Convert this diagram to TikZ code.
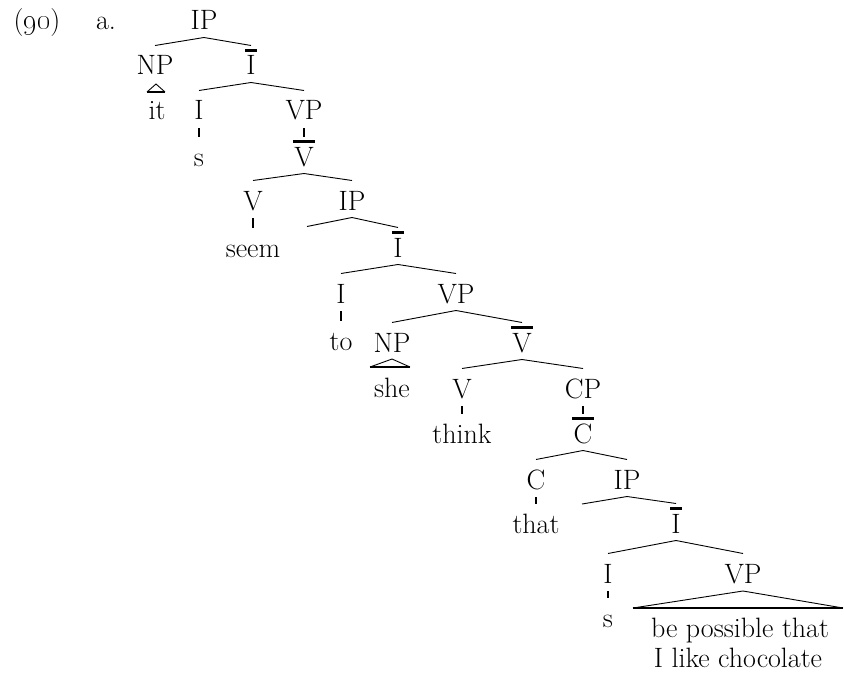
\documentclass[tikz,border=0pt]{standalone}
\usetikzlibrary{calc}
\begin{document}
\begin{tikzpicture}[x=1pt,y=-1pt,
  font=\fontsize{28}{31}\selectfont,
  every node/.style={inner sep=0pt,anchor=base},
  branch/.style={line width=0.9pt},
  vert/.style={line width=1.8pt},
  barline/.style={line width=2.6pt},
  tribase/.style={line width=2pt},
  triside/.style={line width=0.9pt}]
\useasboundingbox (0,0) rectangle (844,677);
\newcommand\brch[2]{\draw[branch] ($(#1.base)+(0,7.5)$) -- ($(#2.base)+(0,-29.5)$);}
\newcommand\vln[2]{\draw[vert] ($(#1.base)+(0,8)$) -- ($(#2.base)+(0,-29.5)$);}
\newcommand\barr[1]{\draw[barline] ($(#1.base west)+(-1,-24.5)$) -- ($(#1.base east)+(1,-24.5)$);}
% labels
\node (ex) at (37,30) {(\oldstylenums{90})};
\node (a) at (106,30) {a.};
\node (ip1) at (204,30) {IP};
\node (np1) at (155,75) {NP};
\node (ib1) at (251,75) {I};
\node (it) at (157,119) {it};
\node (i1) at (199,120) {I};
\node (vp1) at (304,120) {VP};
\node (s1) at (199,166) {s};
\node (vb1) at (304,166) {V};
\node (v1) at (253,210) {V};
\node (ip2) at (352,210) {IP};
\node (seem) at (253,257) {seem};
\node (ib2) at (398,257) {I};
\node (i2) at (341,303) {I};
\node (vp2) at (456,303) {VP};
\node (to) at (341,350) {to};
\node (np2) at (392,352) {NP};
\node (vb2) at (522,352) {V};
\node (she) at (392,397) {she};
\node (v2) at (462,398) {V};
\node (cp) at (583,398) {CP};
\node (think) at (462,443) {think};
\node (cb) at (583,443) {C};
\node (c) at (536,489) {C};
\node (ip3) at (627,489) {IP};
\node (that) at (536,533) {that};
\node (ib3) at (676,533) {I};
\node (i3) at (608,583) {I};
\node (vp3) at (743,583) {VP};
\node (s3) at (608,627) {s};
\node (vpa) at (740,637) {be possible that};
\node (vpb) at (738,667) {I like chocolate};
% bars
\barr{ib1}\barr{vb1}\barr{ib2}\barr{vb2}\barr{cb}\barr{ib3}
% branches
\brch{ip1}{np1}\brch{ip1}{ib1}
\brch{ib1}{i1}\brch{ib1}{vp1}
\brch{vb1}{v1}\brch{vb1}{ip2}
\brch{ip2}{ib2}
\brch{ib2}{i2}\brch{ib2}{vp2}
\brch{vp2}{np2}\brch{vp2}{vb2}
\brch{vb2}{v2}\brch{vb2}{cp}
\brch{cb}{c}\brch{cb}{ip3}
\brch{ip3}{ib3}
\brch{ib3}{i3}\brch{ib3}{vp3}
\draw[branch] ($(ip2.base)+(0,7.5)$) -- ($(ip2.base)+(-45,16.5)$);
\draw[branch] ($(ip3.base)+(0,7.5)$) -- ($(ip3.base)+(-45,15)$);
% unary lines
\vln{i1}{s1}\vln{vp1}{vb1}\vln{v1}{seem}\vln{i2}{to}
\vln{v2}{think}\vln{cp}{cb}\vln{c}{that}\vln{i3}{s3}
% triangles
\draw[triside] ($(it.base)+(-10,-27)$) -- ($(np1.base)+(1,9)$) -- ($(it.base)+(8,-27)$);
\draw[tribase] ($(it.base)+(-10,-27)$) -- ($(it.base)+(8,-27)$);
\draw[triside] ($(she.base)+(-22,-30)$) -- ($(np2.base)+(0,7)$) -- ($(she.base)+(18,-30)$);
\draw[tribase] ($(she.base)+(-22,-30)$) -- ($(she.base)+(18,-30)$);
\draw[triside] ($(vpa.base)+(-107,-29)$) -- ($(vp3.base)+(0,8)$) -- ($(vpa.base)+(103,-29)$);
\draw[tribase] ($(vpa.base)+(-107,-29)$) -- ($(vpa.base)+(103,-29)$);
\end{tikzpicture}
\end{document}
